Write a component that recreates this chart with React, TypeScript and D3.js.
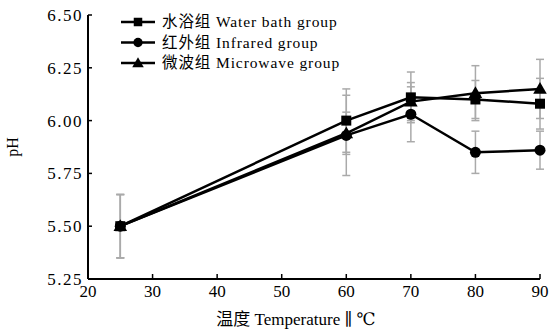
import React from "react";
import * as d3 from "d3";

const temps = [25, 60, 70, 80, 90];
const waterBath = [5.5, 6.0, 6.11, 6.1, 6.08];
const waterBathErr = [0.15, 0.15, 0.12, 0.09, 0.12];
const infrared = [5.5, 5.93, 6.03, 5.85, 5.86];
const infraredErr = [0.15, 0.19, 0.13, 0.1, 0.09];
const microwave = [5.5, 5.94, 6.09, 6.13, 6.15];
const microwaveErr = [0.15, 0.1, 0.09, 0.13, 0.14];
const seriesNames = ["水浴组 Water bath group", "红外组 Infrared group", "微波组 Microwave group"];
const xTicks = [20, 30, 40, 50, 60, 70, 80, 90];
const yTicks = [5.25, 5.5, 5.75, 6.0, 6.25, 6.5];

const W = 552, H = 334;
const x = d3.scaleLinear().domain([20, 90]).range([88, 540]);
const y = d3.scaleLinear().domain([5.25, 6.5]).range([279, 15]);
const FONT = "Liberation Serif, Times New Roman, DejaVu Serif, Noto Sans CJK SC, serif";

type Shape = "square" | "circle" | "triangle";
const series: { name: string; vals: number[]; err: number[]; shape: Shape }[] = [
  { name: seriesNames[0], vals: waterBath, err: waterBathErr, shape: "square" },
  { name: seriesNames[1], vals: infrared, err: infraredErr, shape: "circle" },
  { name: seriesNames[2], vals: microwave, err: microwaveErr, shape: "triangle" },
];

function Marker({ shape, cx, cy, s = 1 }: { shape: Shape; cx: number; cy: number; s?: number }) {
  if (shape === "square") return <rect x={cx - 5 * s} y={cy - 5 * s} width={10 * s} height={10 * s} fill="#000" />;
  if (shape === "circle") return <circle cx={cx} cy={cy} r={5.5 * s} fill="#000" />;
  const p = d3.symbol(d3.symbolTriangle, 80 * s * s)();
  return <path d={p || ""} transform={`translate(${cx},${cy + 1})`} fill="#000" />;
}

export default function App() {
  const line = d3.line<number>().x((_, i) => x(temps[i])).y((d) => y(d));
  return (
    <svg width={W} height={H} style={{ position: "absolute", left: 0, top: 0, background: "#fff" }}>
      {series.map((s, si) =>
        s.vals.map((v, i) => {
          const cx = x(temps[i]);
          const y1 = y(v + s.err[i]);
          const y2 = y(v - s.err[i]);
          return (
            <g key={`e${si}-${i}`} stroke="#aaa" strokeWidth={1.5}>
              <line x1={cx} x2={cx} y1={y1} y2={y2} />
              <line x1={cx - 4} x2={cx + 4} y1={y1} y2={y1} />
              <line x1={cx - 4} x2={cx + 4} y1={y2} y2={y2} />
            </g>
          );
        })
      )}
      {series.map((s, si) => (
        <path key={`l${si}`} d={line(s.vals) || ""} fill="none" stroke="#000" strokeWidth={2.5} />
      ))}
      {series.map((s, si) =>
        s.vals.map((v, i) => <Marker key={`m${si}-${i}`} shape={s.shape} cx={x(temps[i])} cy={y(v)} />)
      )}
      <line x1={x(20)} x2={x(20)} y1={y(6.5)} y2={y(5.25)} stroke="#000" strokeWidth={2} />
      <line x1={x(20)} x2={x(90)} y1={y(5.25)} y2={y(5.25)} stroke="#000" strokeWidth={2} />
      {yTicks.map((t) => (
        <g key={`yt${t}`}>
          <line x1={x(20)} x2={x(20) + 4} y1={y(t)} y2={y(t)} stroke="#000" strokeWidth={1.5} />
          <text x={x(20) - 5} y={y(t)} dy="0.35em" textAnchor="end" fontFamily={FONT} fontSize={17} letterSpacing={1.5}>
            {t.toFixed(2)}
          </text>
        </g>
      ))}
      {xTicks.map((t) => (
        <g key={`xt${t}`}>
          <line x1={x(t)} x2={x(t)} y1={y(5.25)} y2={y(5.25) - 5} stroke="#000" strokeWidth={1.5} />
          <text x={x(t)} y={297} textAnchor="middle" fontFamily={FONT} fontSize={17}>
            {t}
          </text>
        </g>
      ))}
      <text x={296} y={325} textAnchor="middle" fontFamily={FONT} fontSize={17}>
        温度 Temperature ∥ ℃
      </text>
      <text transform={`translate(18,147) rotate(-90)`} textAnchor="middle" fontFamily={FONT} fontSize={16}>
        pH
      </text>
      {series.map((s, si) => {
        const ly = 22 + si * 20.5;
        return (
          <g key={`lg${si}`}>
            <line x1={121} x2={155} y1={ly} y2={ly} stroke="#000" strokeWidth={2.5} />
            <Marker shape={s.shape} cx={138} cy={ly} s={0.85} />
            <text x={162} y={ly} dy="0.35em" fontFamily={FONT} fontSize={15.5} letterSpacing={0.9}>
              {s.name}
            </text>
          </g>
        );
      })}
    </svg>
  );
}
